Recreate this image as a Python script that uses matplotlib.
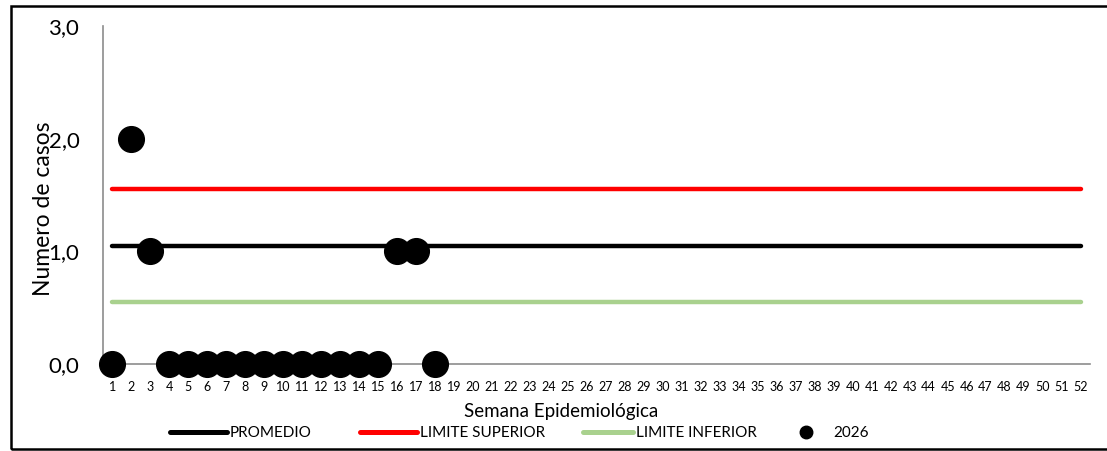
import matplotlib
matplotlib.use("Agg")
import matplotlib.pyplot as plt
from matplotlib.lines import Line2D
from matplotlib.patches import Rectangle

plt.rcParams['font.family'] = ['Lato', 'DejaVu Sans']

# Epidemiological weeks and reference levels
semanas = list(range(1, 53))
promedio = [1.05] * 52
limite_superior = [1.55] * 52
limite_inferior = [0.55] * 52

# Observed cases in 2026 (weeks reported so far)
semanas_2026 = list(range(1, 19))
casos_2026 = [0, 2, 1, 0, 0, 0, 0, 0, 0, 0, 0, 0, 0, 0, 0, 1, 1, 0]

y_ticks = [0.0, 1.0, 2.0, 3.0]
y_tick_labels = ["0,0", "1,0", "2,0", "3,0"]

fig = plt.figure(figsize=(11.07, 4.51), dpi=100)
W, H = 1107, 451
ax = fig.add_axes([103 / W, (H - 364) / H, (1090 - 103) / W, (364 - 26) / H])

ax.plot(semanas, limite_superior, color="#ff0000", lw=3.2, solid_capstyle="round", zorder=2)
ax.plot(semanas, promedio, color="#000000", lw=3.2, solid_capstyle="round", zorder=2)
ax.plot(semanas, limite_inferior, color="#a9d18e", lw=3.2, solid_capstyle="round", zorder=2)
ax.plot(semanas_2026, casos_2026, linestyle="none", marker="o", markersize=18.5,
        color="black", zorder=3, clip_on=False)

ax.set_xlim(0.5, 52.5)
ax.set_ylim(0, 3)
ax.set_xticks(semanas)
ax.set_xticklabels([str(s) for s in semanas], fontsize=9)
ax.set_yticks(y_ticks)
ax.set_yticklabels(y_tick_labels, fontsize=16)
ax.tick_params(axis="x", length=0, pad=12)
ax.tick_params(axis="y", length=0, pad=17)

for side in ("top", "right"):
    ax.spines[side].set_visible(False)
for side in ("left", "bottom"):
    ax.spines[side].set_color("#8c8c8c")
    ax.spines[side].set_linewidth(1.2)
    ax.spines[side].set_zorder(1)

fig.text(44 / W, 1 - 209 / H, "Numero de casos", rotation=90, fontsize=16.5,
         ha="center", va="center")
fig.text(561 / W, 1 - 411 / H, "Semana Epidemiológica", fontsize=13.5,
         ha="center", va="center")

# Legend entries, each placed at its own slot along the bottom
entries = [
    (Line2D([], [], color="black", lw=3.6, solid_capstyle="round"), "PROMEDIO", 170, 3.7, 0.2),
    (Line2D([], [], color="#ff0000", lw=3.6, solid_capstyle="round"), "LIMITE SUPERIOR", 360, 3.7, 0.2),
    (Line2D([], [], color="#a9d18e", lw=3.6, solid_capstyle="round"), "LIMITE INFERIOR", 583, 3.3, 0.2),
    (Line2D([], [], color="black", linestyle="none", marker="o", markersize=9), "2026", 778, 3.6, 0.05),
]
for handle, label, x0, hlen, hpad in entries:
    fig.legend([handle], [label], loc="center left", bbox_to_anchor=(x0 / W, 1 - 433 / H),
               frameon=False, fontsize=11, handlelength=hlen, handletextpad=hpad,
               borderpad=0, borderaxespad=0)

fig.patches.append(Rectangle((11 / W, 1 - 449 / H), (W + 10 - 11) / W, (449 - 6) / H,
                             transform=fig.transFigure, fill=False,
                             edgecolor="black", linewidth=1.8, zorder=0))

fig.savefig("out.png", dpi=100)
